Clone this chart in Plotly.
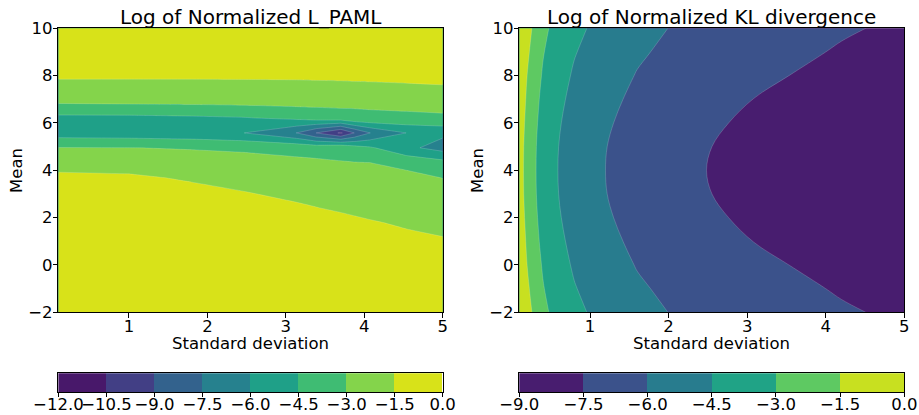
import plotly.graph_objects as go

# ---------------------------------------------------------------------------
# Left panel: log of normalized L_PAML over (standard deviation, mean)
# ---------------------------------------------------------------------------
sigma_paml = [0.1, 1.0, 1.8, 2.46, 3.14, 3.39, 3.7, 3.87, 4.07, 4.54, 5.0]
mean_paml = [-2, 0.53, 1.79, 2.42, 3.05, 3.68, 4.32, 4.95, 5.58, 6.21,
             6.84, 7.47, 8.11, 8.74, 10]
# one list per standard deviation (same order as sigma_paml), running over mean_paml
paml_by_sigma = [
    [-0.20, -0.30, -0.42, -0.55, -0.75, -1.08, -2.20, -2.95, -5.22, -4.88, -2.95, -1.95, -1.19, -0.80, -0.45],
    [-0.22, -0.32, -0.45, -0.60, -0.85, -1.21, -2.30, -2.98, -5.32, -4.88, -2.87, -1.90, -1.23, -0.82, -0.47],
    [-0.24, -0.35, -0.50, -0.70, -1.00, -1.70, -2.45, -3.08, -5.50, -4.745, -2.82, -1.88, -1.24, -0.83, -0.48],
    [-0.26, -0.40, -0.65, -0.95, -1.44, -2.00, -2.64, -3.155, -5.98, -4.59, -2.74, -1.85, -1.245, -0.84, -0.49],
    [-0.30, -0.52, -0.88, -1.30, -1.85, -2.35, -2.75, -3.38, -7.52, -4.18, -2.63, -1.84, -1.22, -0.82, -0.48],
    [-0.31, -0.55, -0.97, -1.478, -1.95, -2.45, -2.78, -3.54, -9.02, -3.75, -2.70, -1.83, -1.19, -0.81, -0.48],
    [-0.32, -0.60, -1.07, -1.70, -2.15, -2.60, -2.985, -3.10, -10.70, -3.48, -2.74, -1.82, -1.16, -0.80, -0.48],
    [-0.33, -0.65, -1.26, -1.78, -2.20, -2.65, -2.96, -3.80, -9.02, -3.10, -2.94, -1.82, -1.11, -0.79, -0.48],
    [-0.35, -0.70, -1.41, -1.85, -2.30, -2.70, -2.99, -4.30, -7.52, -3.10, -2.92, -1.82, -1.06, -0.78, -0.48],
    [-0.40, -0.95, -1.65, -1.95, -2.20, -2.546, -3.454, -5.65, -5.98, -3.24, -2.70, -1.80, -0.886, -0.70, -0.47],
    [-0.45, -1.16, -1.80, -2.20, -2.60, -3.02, -4.00, -6.60, -5.68, -3.10, -2.79, -1.65, -0.964, -0.68, -0.46],
]
levels_paml = [-12.0, -10.5, -9.0, -7.5, -6.0, -4.5, -3.0, -1.5, 0.0]
colors_paml = ["#48186a", "#423f85", "#33628d", "#26818e",
               "#1fa088", "#3fbc73", "#84d44b", "#d8e219"]

# ---------------------------------------------------------------------------
# Right panel: log of normalized KL divergence over (standard deviation, mean)
# ---------------------------------------------------------------------------
sigma_kl = [0.1, 0.14, 0.2, 0.28, 0.4, 0.56, 0.8, 1.1, 1.6, 2.2, 3.1, 4.2, 5.0]
mean_kl = [-2, -1, 0, 1, 2, 3, 4, 5, 6, 7, 8, 9, 10]
# one list per mean (same order as mean_kl), running over sigma_kl
kl_by_mean = [
    [0.00, -0.10, -0.84, -1.71, -2.63, -3.41, -4.15, -4.81, -5.59, -6.22, -6.83, -7.38, -7.69],
    [-0.02, -0.34, -1.21, -2.03, -2.91, -3.65, -4.42, -5.07, -5.83, -6.43, -7.05, -7.60, -7.91],
    [-0.05, -0.67, -1.51, -2.29, -3.12, -3.87, -4.66, -5.30, -6.06, -6.65, -7.28, -7.84, -8.16],
    [-0.17, -0.93, -1.74, -2.50, -3.31, -4.09, -4.86, -5.52, -6.27, -6.87, -7.52, -8.09, -8.42],
    [-0.42, -1.14, -1.92, -2.64, -3.46, -4.26, -5.03, -5.70, -6.45, -7.08, -7.75, -8.34, -8.69],
    [-0.58, -1.29, -2.04, -2.74, -3.57, -4.37, -5.14, -5.82, -6.58, -7.23, -7.92, -8.53, -8.89],
    [-0.63, -1.33, -2.07, -2.77, -3.59, -4.40, -5.17, -5.85, -6.62, -7.28, -7.98, -8.60, -8.92],
    [-0.58, -1.29, -2.04, -2.74, -3.57, -4.37, -5.14, -5.82, -6.58, -7.23, -7.92, -8.53, -8.89],
    [-0.42, -1.14, -1.92, -2.64, -3.46, -4.26, -5.03, -5.70, -6.45, -7.08, -7.75, -8.34, -8.69],
    [-0.17, -0.93, -1.74, -2.50, -3.31, -4.09, -4.86, -5.52, -6.27, -6.87, -7.52, -8.09, -8.42],
    [-0.05, -0.67, -1.51, -2.29, -3.12, -3.87, -4.66, -5.30, -6.06, -6.65, -7.28, -7.84, -8.16],
    [-0.02, -0.34, -1.21, -2.03, -2.91, -3.65, -4.42, -5.07, -5.83, -6.43, -7.05, -7.60, -7.91],
    [0.00, -0.10, -0.84, -1.71, -2.63, -3.41, -4.15, -4.81, -5.59, -6.22, -6.83, -7.38, -7.69],
]
levels_kl = [-9.0, -7.5, -6.0, -4.5, -3.0, -1.5, 0.0]
colors_kl = ["#481d6f", "#3b528b", "#287c8e", "#20a386", "#5ec962", "#c8e020"]

x_ticks = [1, 2, 3, 4, 5]
y_ticks = [-2, 0, 2, 4, 6, 8, 10]

titles = ["Log of Normalized L_PAML", "Log of Normalized KL divergence"]
x_label = "Standard deviation"
y_label = "Mean"

# ---------------------------------------------------------------------------
W, H = 919, 415
FONT = "DejaVu Sans"
TICK_SIZE = 16.5


def fx(px):
    return px / W


def fy(px):
    return 1 - px / H


def band_scale(colors):
    """Stepped colorscale: plotly colours each filled band at its midpoint,
    mapped so that [start - size/2, end + size/2] spans [0, 1]."""
    n = len(colors)
    span = n + 1
    scale = [[0.0, colors[0]]]
    for k, c in enumerate(colors):
        scale.append([(k + 0.5) / span, c])
        scale.append([(k + 1.5) / span, c])
    scale.append([1.0, colors[-1]])
    return scale


def step(levels):
    return levels[1] - levels[0]


PANEL_X = [(58.4, 442.7), (519.3, 904.3)]
PLOT_Y = (28.3, 312.3)
CBAR_Y = (373.3, 392.3)

fig = go.Figure()

seam = dict(width=0.5, color="rgba(255,255,255,0.35)")

fig.add_trace(go.Contour(
    x=sigma_paml, y=mean_paml, z=paml_by_sigma, transpose=True,
    autocontour=False,
    contours=dict(start=levels_paml[0], end=levels_paml[-1],
                  size=step(levels_paml), coloring="fill"),
    colorscale=band_scale(colors_paml), showscale=False,
    line=dict(smoothing=0, **seam),
    hoverinfo="skip", xaxis="x", yaxis="y",
))

fig.add_trace(go.Contour(
    x=sigma_kl, y=mean_kl, z=kl_by_mean,
    autocontour=False,
    contours=dict(start=levels_kl[0], end=levels_kl[-1],
                  size=step(levels_kl), coloring="fill"),
    colorscale=band_scale(colors_kl), showscale=False,
    line=dict(smoothing=1, **seam),
    hoverinfo="skip", xaxis="x2", yaxis="y2",
))

# horizontal colour bars drawn as one bar per band
for levels, colors, xa, ya in [(levels_paml, colors_paml, "x3", "y3"),
                               (levels_kl, colors_kl, "x4", "y4")]:
    centers = [(a + b) / 2 for a, b in zip(levels[:-1], levels[1:])]
    fig.add_trace(go.Bar(
        x=centers, y=[1] * len(centers), width=step(levels),
        marker=dict(color=colors, line=dict(width=0)),
        hoverinfo="skip", xaxis=xa, yaxis=ya, showlegend=False,
    ))

frame = dict(showline=True, linecolor="black", linewidth=1, mirror=True,
             showgrid=False, zeroline=False, automargin=False,
             tickangle=0,
             tickfont=dict(family=FONT, size=TICK_SIZE, color="black"))

layout = dict(
    width=W, height=H,
    margin=dict(l=0, r=0, t=0, b=0, autoexpand=False),
    paper_bgcolor="white", plot_bgcolor="white",
    showlegend=False, bargap=0,
    font=dict(family=FONT, size=TICK_SIZE, color="black"),
)

for i, (x0, x1) in enumerate(PANEL_X):
    n = i + 1
    xk = "xaxis" if n == 1 else f"xaxis{n}"
    yk = "yaxis" if n == 1 else f"yaxis{n}"
    ysuf = "y" if n == 1 else f"y{n}"
    xsuf = "x" if n == 1 else f"x{n}"
    layout[xk] = dict(frame, domain=[fx(x0), fx(x1)], range=[0.1, 5],
                      tickmode="array", tickvals=x_ticks, ticks="outside",
                      ticklen=4.5, tickwidth=1, tickcolor="black",
                      ticklabelstandoff=-6, anchor=ysuf)
    layout[yk] = dict(frame, domain=[fy(PLOT_Y[1]), fy(PLOT_Y[0])],
                      range=[-2, 10], tickmode="array", tickvals=y_ticks,
                      ticks="outside", ticklen=4.5, tickwidth=1,
                      tickcolor="black", ticklabelstandoff=-3, anchor=xsuf)

for i, ((x0, x1), levels) in enumerate(zip(PANEL_X, [levels_paml, levels_kl])):
    n = i + 3
    layout[f"xaxis{n}"] = dict(frame, domain=[fx(x0), fx(x1)],
                               range=[levels[0], levels[-1]],
                               tickmode="array", tickvals=levels,
                               tickformat=".1f", ticks="outside",
                               ticklen=3.5, tickwidth=1, tickcolor="black",
                               ticklabelstandoff=-7, anchor=f"y{n}")
    layout[f"yaxis{n}"] = dict(frame, domain=[fy(CBAR_Y[1]), fy(CBAR_Y[0])],
                               range=[0, 1], showticklabels=False,
                               ticks="", anchor=f"x{n}")

annotations = []
for (x0, x1), title in zip(PANEL_X, titles):
    cx = (x0 + x1) / 2
    annotations.append(dict(text=title, x=fx(cx), y=fy(17), xref="paper",
                            yref="paper", showarrow=False,
                            xanchor="center", yanchor="middle",
                            font=dict(family=FONT, size=20, color="black")))
    annotations.append(dict(text=x_label, x=fx(cx), y=fy(343), xref="paper",
                            yref="paper", showarrow=False,
                            xanchor="center", yanchor="middle",
                            font=dict(family=FONT, size=TICK_SIZE,
                                      color="black")))
    annotations.append(dict(text=y_label, x=fx(x0 - 41.7), y=fy(170.3),
                            xref="paper", yref="paper", showarrow=False,
                            textangle=-90, xanchor="center",
                            yanchor="middle",
                            font=dict(family=FONT, size=TICK_SIZE,
                                      color="black")))
layout["annotations"] = annotations

fig.update_layout(**layout)
fig.write_html("out.html")
